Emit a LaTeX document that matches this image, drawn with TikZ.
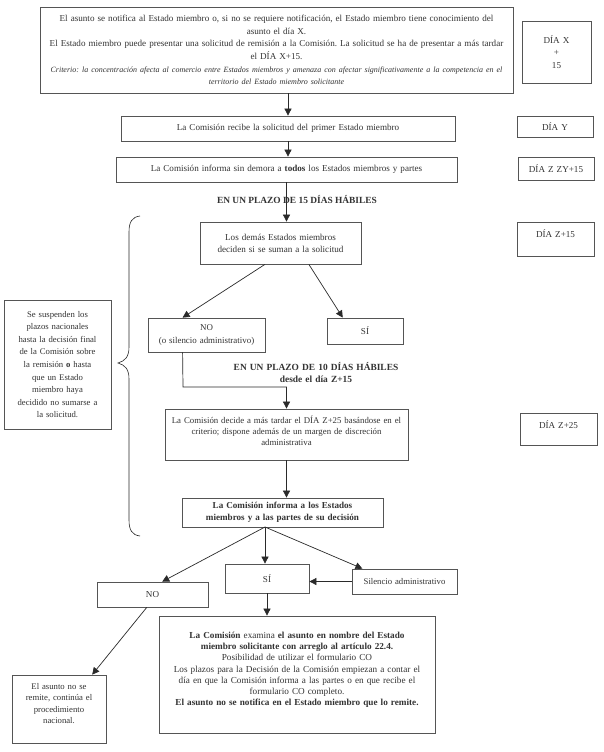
\documentclass[tikz,border=0pt]{standalone}
\usepackage{fontspec}
\setmainfont{Liberation Serif}
\usetikzlibrary{arrows.meta,calc}
\definecolor{bord}{HTML}{555555}
\definecolor{txt}{HTML}{333333}
\definecolor{lin}{HTML}{2A2A2A}
\frenchspacing
\begin{document}
\begin{tikzpicture}[x=1pt,y=-1pt,
  box/.style={draw=bord, line width=0.75pt, align=center, inner sep=1pt, text=txt,
    font=\fontsize{9.1}{12.2}\selectfont},
  arr/.style={draw=lin, line width=0.7pt, -{Triangle[length=7pt,width=7pt]}},
  ln/.style={draw=lin, line width=0.7pt},
  hd/.style={font=\bfseries\fontsize{9.4}{12.5}\selectfont, text=txt, align=center, inner sep=0pt}]
\useasboundingbox (0,0) rectangle (604,752);
\fill[white] (0,0) rectangle (604,752);

\node[box, minimum width=473pt, minimum height=86pt, text width=469pt, font=\fontsize{9.1}{12.6}\selectfont] (top) at (276.5,50)
 {El asunto se notifica al Estado miembro o, si no se requiere notificación, el Estado miembro tiene conocimiento del\\
  asunto el día X.\\
  El Estado miembro puede presentar una solicitud de remisión a la Comisión. La solicitud se ha de presentar a más tardar\\
  el DÍA X+15.\\
  \itshape\fontsize{8.0}{12.6}\selectfont\mbox{Criterio: la concentración afecta al comercio entre Estados miembros y amenaza con afectar significativamente a la competencia en el}\\
  territorio del Estado miembro solicitante};
\node[box, minimum width=69pt, minimum height=62pt, text width=63pt] (dx) at (556.5,52) {DÍA X\\+\\15};

\node[box, minimum width=334pt, minimum height=25pt, text width=328pt] (box2) at (288,128.5)
 {La Comisión recibe la solicitud del primer Estado miembro};
\node[box, minimum width=76pt, minimum height=21pt, text width=70pt] (dy) at (555,126.5) {DÍA Y};

\node[box, minimum width=341pt, minimum height=25pt, text width=335pt] (box3) at (286.5,169.5)
 {La Comisión informa sin demora a \textbf{todos} los Estados miembros y partes};
\node[box, minimum width=76pt, minimum height=23pt, text width=72pt] (dz) at (556,168.5) {DÍA Z ZY+15};

\node[box, minimum width=161pt, minimum height=42pt, text width=157pt] (box4) at (280.5,243)
 {Los demás Estados miembros\\deciden si se suman a la solicitud};
\node[box, minimum width=77pt, minimum height=34pt, text width=71pt] (dz15) at (555.5,239) {DÍA Z+15\\[-1pt]\mbox{}};

\node[box, minimum width=107pt, minimum height=129pt, text width=103pt, font=\fontsize{8.7}{12.6}\selectfont] (left) at (57.5,364.5)
 {Se suspenden los\\plazos nacionales\\hasta la decisión final\\de la Comisión sobre\\la remisión \textbf{o} hasta\\que un Estado\\miembro haya\\decidido no sumarse a\\la solicitud.};

\node[box, minimum width=117pt, minimum height=34pt, text width=113pt, font=\fontsize{8.9}{13}\selectfont] (no1) at (206.5,335)
 {NO\\(o silencio administrativo)};
\node[box, minimum width=76pt, minimum height=26pt, text width=70pt] (si1) at (365,331) {SÍ};

\node[box, minimum width=243pt, minimum height=51pt, text width=239pt, font=\fontsize{8.8}{11}\selectfont] (box5) at (286.5,434.5)
 {La Comisión decide a más tardar el DÍA Z+25 basándose en el\\criterio; dispone además de un margen de discreción\\administrativa\\[-3pt]\mbox{}};
\node[box, minimum width=77pt, minimum height=32pt, text width=71pt] (dz25) at (558.5,429) {DÍA Z+25\\[-3pt]\mbox{}};

\node[box, minimum width=201pt, minimum height=29pt, text width=197pt, font=\bfseries\fontsize{9.1}{12.5}\selectfont] (box6) at (282.5,512.5)
 {La Comisión informa a los Estados\\miembros y a las partes de su decisión};

\node[box, minimum width=111pt, minimum height=25pt, text width=105pt] (no2) at (152.5,594.5) {NO};
\node[box, minimum width=84pt, minimum height=29pt, text width=78pt] (si2) at (267,578.5) {SÍ};
\node[box, minimum width=105pt, minimum height=25pt, text width=103pt, font=\fontsize{8.7}{11}\selectfont] (sil) at (404.5,581.5) {Silencio administrativo};

\node[box, minimum width=276pt, minimum height=117pt, text width=272pt, font=\fontsize{9.2}{11.3}\selectfont] (big) at (297,674.5)
 {\textbf{La Comisión} examina \textbf{el asunto en nombre del Estado}\\
  \textbf{miembro solicitante con arreglo al artículo 22.4.}\\
  Posibilidad de utilizar el formulario CO\\
  Los plazos para la Decisión de la Comisión empiezan a contar el\\
  día en que la Comisión informa a las partes o en que recibe el\\
  formulario CO completo.\\
  \textbf{El asunto no se notifica en el Estado miembro que lo remite.}\\\mbox{}};

\node[box, minimum width=94pt, minimum height=68pt, text width=90pt, font=\fontsize{8.7}{11.5}\selectfont] (left2) at (59,709)
 {El asunto no se\\remite, continúa el\\procedimiento\\nacional.\\\mbox{}};

% connectors
\draw[arr] (top.south -| box2.north) -- (box2.north);
\draw[arr] (box2.south) -- (box2.south |- box3.north);
\draw[arr] (box3.south) -- (box3.south |- box4.north);
\draw[arr] (box4.234) -- (no1.144);
\draw[arr] (box4.323) -- (si1.149);
\coordinate (bend) at (183,387);
\draw[arr] (no1.216) -- (bend) -- (bend -| box5.north) -- (box5.north);
\draw[arr] (box5.south) -- (box5.south |- box6.north);
\coordinate (split) at (265,527);
\draw[arr] (split) -- (no2.53);
\draw[arr] (split) -- (split |- si2.north);
\draw[arr] (split) -- (sil.163);
\draw[arr] (sil.west) -- (sil.west -| si2.east);
\draw[arr] (si2.south) -- (si2.south |- big.north);
\draw[arr] (no2.246) -- (left2.46);

% brace
\draw[ln, line width=0.6pt] (140,216) .. controls (132,217) and (129,222) .. (129,232) -- (129,347)
  .. controls (129,357) and (125,361) .. (118,363)
  .. controls (125,365) and (129,369) .. (129,379) -- (129,520)
  .. controls (129,530) and (132,535) .. (140,536);

% headings
\node[hd] (h15) at (297,200) {EN UN PLAZO DE 15 DÍAS HÁBILES};
\node[hd, text width=180pt] (h10) at (316,372.5) {EN UN PLAZO DE 10 DÍAS HÁBILES\\desde el día Z+15};
\end{tikzpicture}
\end{document}
